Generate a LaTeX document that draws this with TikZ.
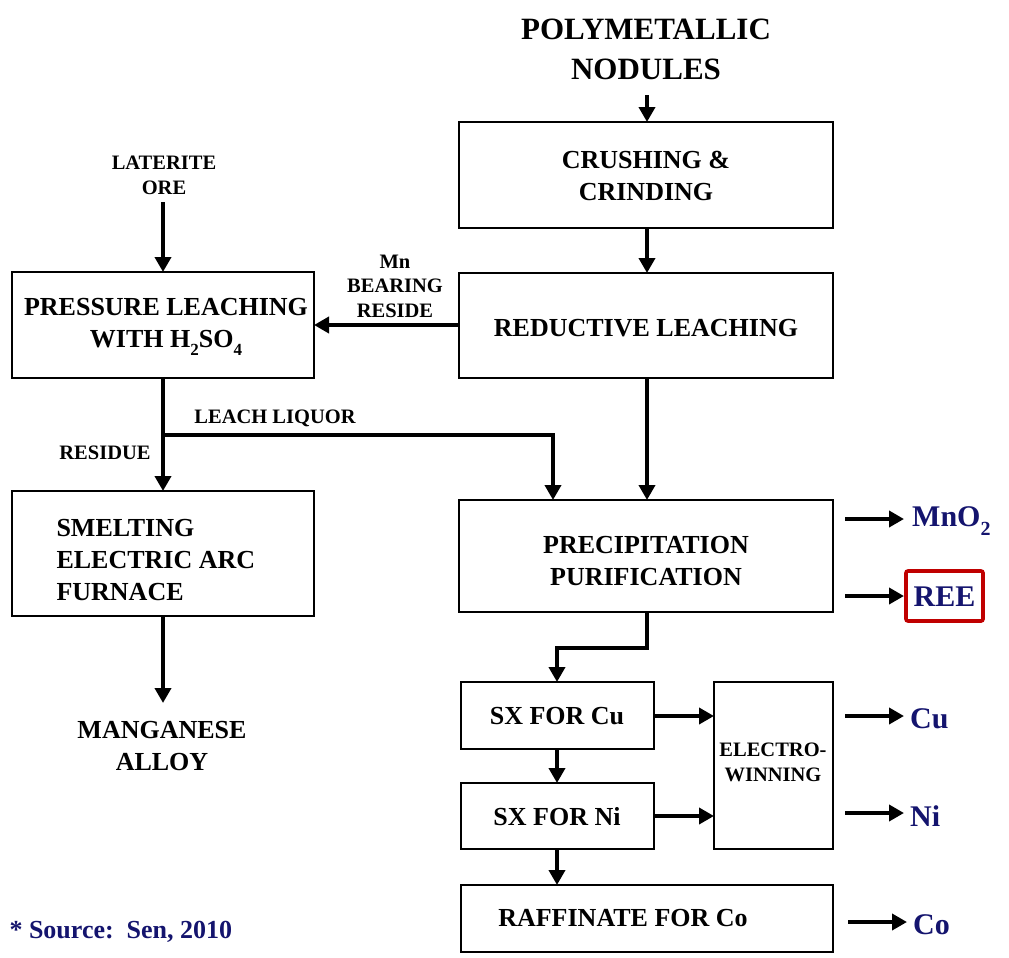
\documentclass[tikz,border=0pt]{standalone}
\usepackage{fontspec}
\setmainfont{Liberation Serif}
\usetikzlibrary{arrows.meta}
\definecolor{navy}{RGB}{20,20,110}
\definecolor{reered}{RGB}{192,0,0}
\newcommand{\mysub}[1]{\raisebox{-0.28em}{\fontsize{17}{17}\selectfont #1}}
\tikzset{
  box/.style={draw=black, line width=1.8pt, inner sep=0pt},
  big/.style={font=\fontsize{26}{32}\selectfont\bfseries, align=center},
  small/.style={font=\fontsize{20.5}{25}\selectfont\bfseries, align=center},
  prod/.style={font=\fontsize{30}{34}\selectfont\bfseries, text=navy, anchor=west, inner sep=0pt},
  arr/.style={line width=3.8pt, -{Triangle[length=15pt,width=16pt]}},
  ln/.style={line width=3.8pt}
}
\begin{document}
\begin{tikzpicture}[x=1pt,y=-1pt]
\useasboundingbox (0,0) rectangle (1009,958);
% boxes
\draw[box] (459,122) rectangle (833,228);
\node[big] (crt) at (646,176) {CRUSHING \&\\CRINDING};
\draw[box] (459,273) rectangle (833,378);
\node[big] (rlt) at (646,328) {REDUCTIVE LEACHING};
\draw[box] (12,272) rectangle (314,378);
\node[big] (plt) at (166,327) {PRESSURE LEACHING\\WITH H\mysub{2}SO\mysub{4}};
\draw[box] (12,491) rectangle (314,616);
\node[big, align=left, anchor=west] (smt) at (53,560) {SMELTING\\ELECTRIC ARC\\FURNACE};
\draw[box] (459,500) rectangle (833,612);
\node[big] (ppt) at (646,561) {PRECIPITATION\\PURIFICATION};
\draw[box] (461,682) rectangle (654,749);
\node[big] (cut) at (557,716) {SX FOR Cu};
\draw[box] (461,783) rectangle (654,849);
\node[big] (nit) at (557,817) {SX FOR Ni};
\draw[box] (714,682) rectangle (833,849);
\node[small] (ewt) at (773,762) {ELECTRO-\\WINNING};
\draw[box] (461,885) rectangle (833,952);
\node[big] (rat) at (623,918) {RAFFINATE FOR Co};
% named anchors
\coordinate (tA) at (647,95); \coordinate (cT) at (647,122);
\coordinate (cB) at (647,228); \coordinate (rT) at (647,273);
\coordinate (rL) at (459,325); \coordinate (pR) at (314,325);
\coordinate (oB) at (163,202); \coordinate (pT) at (163,272);
\coordinate (pB) at (163,378); \coordinate (sT) at (163,491);
\coordinate (jn) at (163,435); \coordinate (jr) at (553,435); \coordinate (ppT1) at (553,500);
\coordinate (rB) at (647,378); \coordinate (ppT2) at (647,500);
\coordinate (ppB) at (647,612); \coordinate (k1) at (647,648); \coordinate (k2) at (557,648);
\coordinate (cuT) at (557,682); \coordinate (cuB) at (557,749); \coordinate (niT) at (557,783);
\coordinate (niB) at (557,849); \coordinate (raT) at (557,885);
\coordinate (sB) at (163,616); \coordinate (mA) at (163,703);
\coordinate (cuR) at (654,716); \coordinate (ewL1) at (714,716);
\coordinate (niR) at (654,816); \coordinate (ewL2) at (714,816);
% title and labels
\node[font=\fontsize{31}{40}\selectfont\bfseries, align=center] (title) at (646,49) {POLYMETALLIC\\NODULES};
\node[small] (ore) at (164,175) {LATERITE\\ORE};
\node[small, font=\fontsize{20.5}{24.5}\selectfont\bfseries] (mnb) at (395,286) {Mn\\BEARING\\RESIDE};
\node[small] (lq) at (275,418) {LEACH LIQUOR};
\node[small] (res) at (105,453) {RESIDUE};
\node[big] (alloy) at (162,746) {MANGANESE\\ALLOY};
\node[font=\fontsize{26}{30}\selectfont\bfseries, text=navy, anchor=west] (src) at (6,932) {* Source:\ \ Sen, 2010};
% connectors
\draw[arr] (tA) -- (cT);
\draw[arr] (cB) -- (rT);
\draw[arr] (oB) -- (pT);
\draw[arr] (rL) -- (pR);
\draw[arr] (pB) -- (sT);
\draw[arr] (jn) -- (jr) -- (ppT1);
\draw[arr] (rB) -- (ppT2);
\draw[arr] (ppB) -- (k1) -- (k2) -- (cuT);
\draw[arr] (sB) -- (mA);
\draw[arr] (cuB) -- (niT);
\draw[arr] (niB) -- (raT);
\draw[arr] (cuR) -- (ewL1);
\draw[arr] (niR) -- (ewL2);
% products
\coordinate (e1) at (845,519); \coordinate (e1b) at (904,519);
\coordinate (e2) at (845,596); \coordinate (e2b) at (904,596);
\coordinate (e3) at (845,716); \coordinate (e3b) at (904,716);
\coordinate (e4) at (845,813); \coordinate (e4b) at (904,813);
\coordinate (e5) at (848,922); \coordinate (e5b) at (907,922);
\draw[arr] (e1) -- (e1b);
\draw[arr] (e2) -- (e2b);
\draw[arr] (e3) -- (e3b);
\draw[arr] (e4) -- (e4b);
\draw[arr] (e5) -- (e5b);
\node[prod] (mno) at (912,521) {MnO\raisebox{-0.28em}{\fontsize{20}{20}\selectfont 2}};
\draw[reered, line width=3.6pt, rounded corners=2pt] (906,571) rectangle (983,621);
\node[prod, anchor=center] (ree) at (944.5,597) {REE};
\node[prod] (cu) at (910,719) {Cu};
\node[prod] (ni) at (910,816) {Ni};
\node[prod] (co) at (913,925) {Co};
\end{tikzpicture}
\end{document}
